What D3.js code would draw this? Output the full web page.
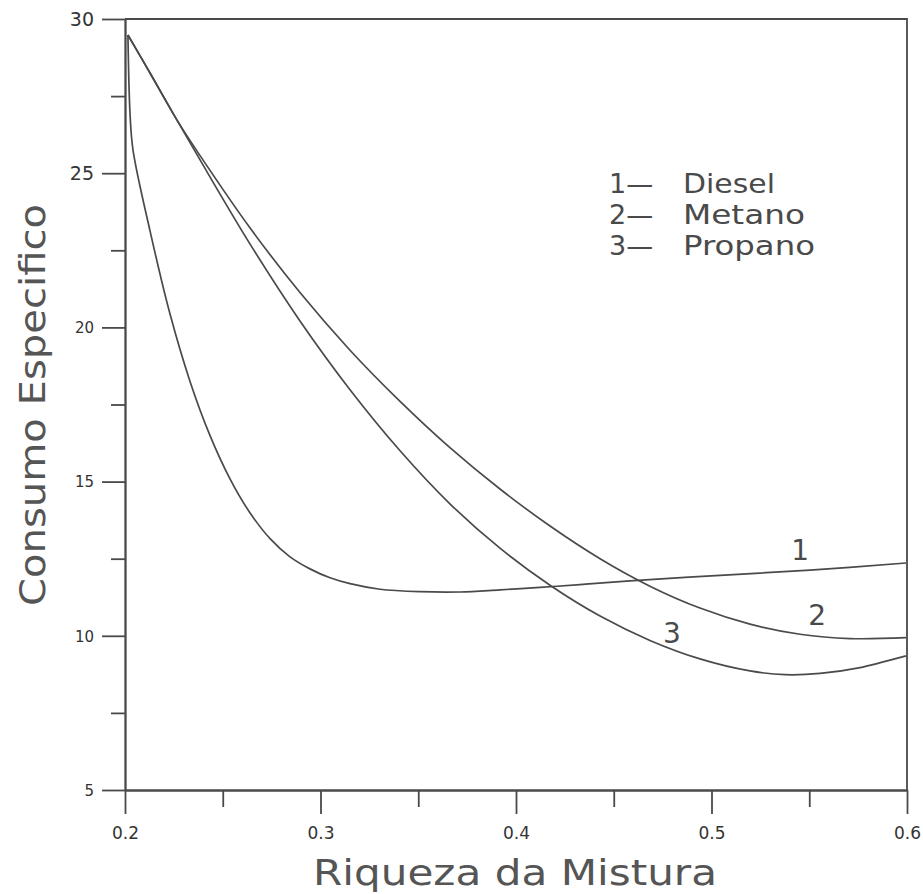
<!DOCTYPE html>
<html>
<head>
<meta charset="utf-8">
<script src="https://cdn.jsdelivr.net/npm/d3@7"></script>
<style>
  html, body { margin: 0; padding: 0; background: #ffffff; }
  svg { display: block; }
  text { font-family: "DejaVu Sans", sans-serif; }
</style>
</head>
<body>
<svg id="chart" width="923" height="894"></svg>
<script>
// ---- data ----
const xMajorTicks = [0.2, 0.3, 0.4, 0.5, 0.6];
const xMinorTicks = [0.25, 0.35, 0.45, 0.55];
const yMajorTicks = [5, 10, 15, 20, 25, 30];
const yMinorTicks = [7.5, 12.5, 17.5, 22.5, 27.5];

const dieselX = [0.2015, 0.2026, 0.2041, 0.2128, 0.223, 0.2333, 0.2435, 0.2537, 0.2639, 0.2742, 0.2844, 0.2946, 0.3049, 0.3151, 0.3304, 0.3509, 0.3714, 0.3918, 0.4123, 0.4327, 0.4583, 0.5044, 0.5504, 0.5995];
const dieselY = [29.48, 26.89, 25.75, 23.13, 20.44, 18.24, 16.49, 15.09, 13.99, 13.15, 12.56, 12.17, 11.88, 11.69, 11.51, 11.43, 11.42, 11.49, 11.57, 11.66, 11.78, 11.96, 12.13, 12.36];

const metanoX = [0.2015, 0.2128, 0.2266, 0.2384, 0.2639, 0.2895, 0.3151, 0.3407, 0.3662, 0.3918, 0.4174, 0.443, 0.4685, 0.4941, 0.5197, 0.5453, 0.5708, 0.5995];
const metanoY = [29.48, 28.25, 26.72, 25.57, 23.23, 21.13, 19.26, 17.6, 16.1, 14.76, 13.56, 12.5, 11.61, 10.9, 10.38, 10.05, 9.91, 9.94];

const propanoX = [0.2015, 0.2128, 0.2266, 0.2384, 0.2639, 0.2895, 0.3151, 0.3407, 0.3662, 0.3918, 0.4174, 0.443, 0.4685, 0.4941, 0.5197, 0.5376, 0.5555, 0.576, 0.5995];
const propanoY = [29.48, 28.25, 26.72, 25.43, 22.71, 20.21, 17.98, 16.0, 14.28, 12.84, 11.64, 10.64, 9.85, 9.25, 8.86, 8.74, 8.78, 8.97, 9.35];

const seriesNames = ["Diesel", "Metano", "Propano"];
const curveLabels = ["1", "2", "3"];
const curveLabelX = [0.5453, 0.554, 0.4798];
const curveLabelY = [12.46, 10.35, 9.77];

const xTitle = "Riqueza da Mistura";
const yTitle = "Consumo Especifico";

// ---- drawing ----
const svg = d3.select("#chart");
const ink = "#4a4a4a";

const x = d3.scaleLinear().domain([0.2, 0.6]).range([125, 907]);
const y = d3.scaleLinear().domain([5, 30]).range([790, 19]);

// frame: top & right
svg.append("path")
  .attr("d", `M${x(0.2)},${y(30)}H${x(0.6)}V${y(5)}`)
  .attr("fill", "none").attr("stroke", ink).attr("stroke-width", 1.8);

const fmtX = d => d.toFixed(1);
const gx = svg.append("g").attr("transform", `translate(0,${y(5)})`)
  .call(d3.axisBottom(x).tickValues(xMajorTicks).tickSize(24).tickSizeOuter(0).tickPadding(9).tickFormat(fmtX));
const gx2 = svg.append("g").attr("transform", `translate(0,${y(5)})`)
  .call(d3.axisBottom(x).tickValues(xMinorTicks).tickSize(17).tickSizeOuter(0).tickFormat(""));
const gy = svg.append("g").attr("transform", `translate(${x(0.2)},0)`)
  .call(d3.axisLeft(y).tickValues(yMajorTicks).tickSize(23).tickSizeOuter(0).tickPadding(8).tickFormat(d3.format("d")));
const gy2 = svg.append("g").attr("transform", `translate(${x(0.2)},0)`)
  .call(d3.axisLeft(y).tickValues(yMinorTicks).tickSize(14).tickSizeOuter(0).tickFormat(""));

[gx, gx2, gy, gy2].forEach(g => {
  g.attr("font-family", "DejaVu Sans, sans-serif");
  g.selectAll("path.domain").attr("stroke", ink).attr("stroke-width", 1.8);
  g.selectAll(".tick line").attr("stroke", ink).attr("stroke-width", 1.8);
  g.selectAll(".tick text").attr("fill", "#333");
});
gx.selectAll(".tick text").style("font-size", "17px").attr("dy", "0.95em");
gy.selectAll(".tick text").style("font-size", d => (d >= 25 ? "19px" : "15px")).attr("dy", "0.35em");

// curves
const line = d3.line().x(d => x(d[0])).y(d => y(d[1])).curve(d3.curveCatmullRom.alpha(0.5));
const zip = (a, b) => a.map((v, i) => [v, b[i]]);
const series = [zip(dieselX, dieselY), zip(metanoX, metanoY), zip(propanoX, propanoY)];
svg.append("g").selectAll("path.curve").data(series).join("path")
  .attr("class", "curve")
  .attr("d", line)
  .attr("fill", "none").attr("stroke", ink).attr("stroke-width", 1.7)
  .attr("stroke-linejoin", "round");

// curve labels
svg.append("g").selectAll("text").data(curveLabels).join("text")
  .attr("x", (d, i) => x(curveLabelX[i]))
  .attr("y", (d, i) => y(curveLabelY[i]))
  .attr("text-anchor", "middle").style("font-size", "28px").attr("fill", ink)
  .text(d => d);

// legend
const nameWidths = [92, 122, 132];
const leg = svg.append("g");
seriesNames.forEach((name, i) => {
  const by = 193 + i * 31;
  leg.append("text").attr("x", 609).attr("y", by).style("font-size", "27px").attr("fill", ink)
    .text(curveLabels[i] + "\u2014");
  leg.append("text").attr("x", 683).attr("y", by).style("font-size", "27px").attr("fill", ink)
    .attr("textLength", nameWidths[i]).attr("lengthAdjust", "spacingAndGlyphs")
    .text(name);
});

// axis titles
svg.append("text").attr("x", 515).attr("y", 885).attr("text-anchor", "middle")
  .style("font-size", "36px").attr("fill", "#555")
  .attr("textLength", 404).attr("lengthAdjust", "spacingAndGlyphs")
  .text(xTitle);
svg.append("text").attr("transform", "translate(45,405) rotate(-90)")
  .attr("text-anchor", "middle").style("font-size", "36px").attr("fill", "#555")
  .attr("textLength", 402).attr("lengthAdjust", "spacingAndGlyphs")
  .text(yTitle);
</script>
</body>
</html>
